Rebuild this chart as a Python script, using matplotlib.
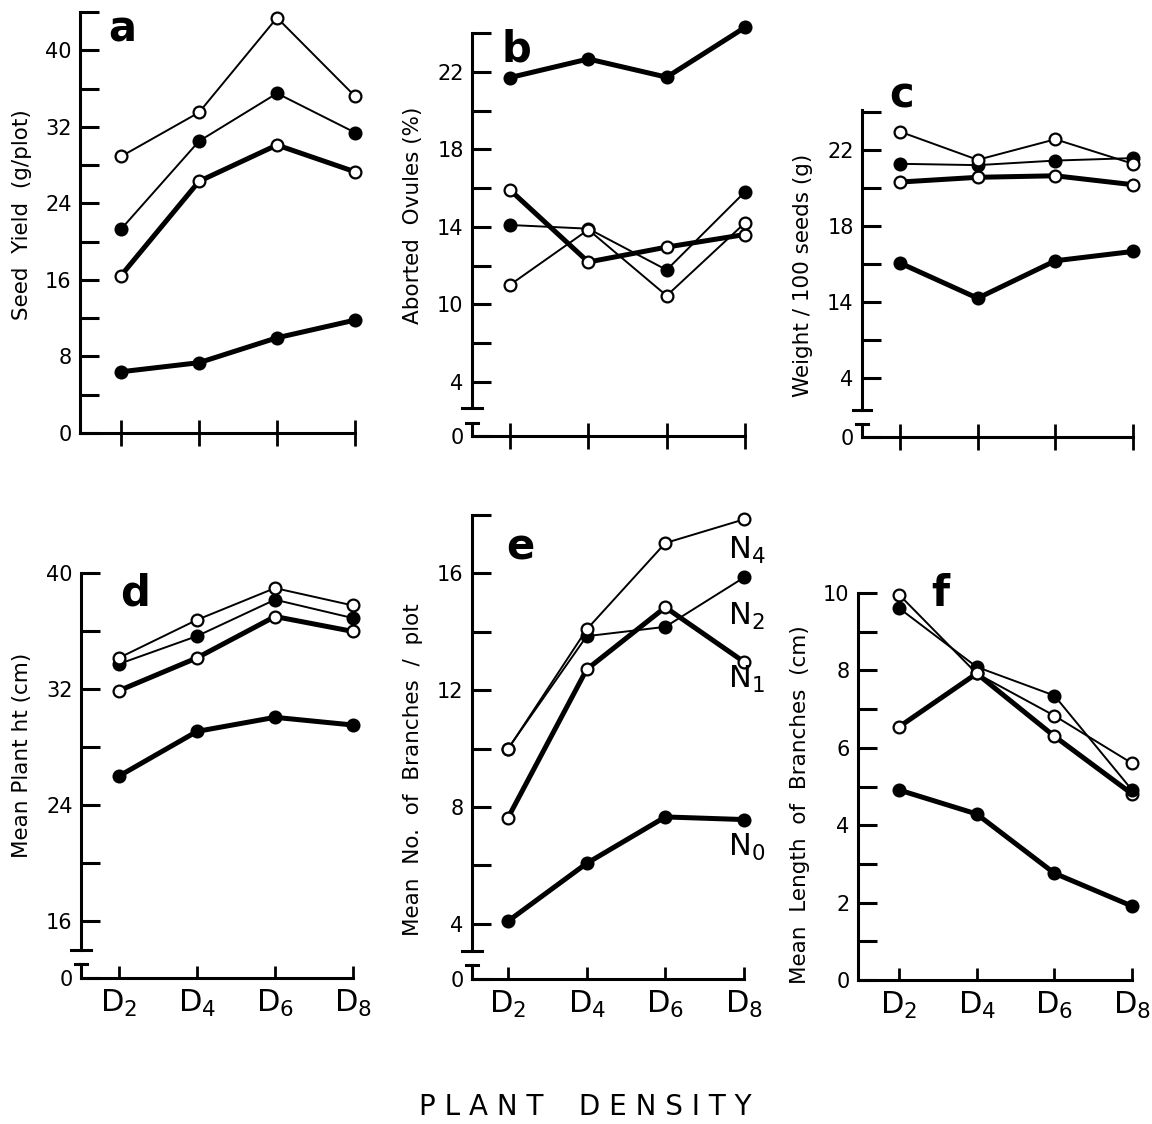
import matplotlib.pyplot as plt

plt.rcParams['font.family'] = 'DejaVu Sans'
plt.rcParams['mathtext.default'] = 'regular'

# plant density levels and nitrogen levels
density = ['D$_2$', 'D$_4$', 'D$_6$', 'D$_8$']
nitrogen = ['N$_0$', 'N$_1$', 'N$_2$', 'N$_4$']
x = [0, 1, 2, 3]

# series order in every panel: N0, N1, N2, N4
seed_yield = [[6.4, 7.35, 9.95, 11.8],
              [16.45, 26.3, 30.1, 27.3],
              [21.3, 30.5, 35.5, 31.4],
              [28.9, 33.5, 43.4, 35.2]]
aborted_ovules = [[21.7, 22.66, 21.72, 24.29],
                  [15.9, 12.18, 12.95, 13.6],
                  [14.09, 13.9, 11.77, 15.8],
                  [11.0, 13.85, 10.44, 14.2]]
seed_weight = [[16.05, 14.2, 16.17, 16.66],
               [20.31, 20.56, 20.64, 20.17],
               [21.27, 21.2, 21.44, 21.57],
               [22.96, 21.48, 22.56, 21.27]]
plant_height = [[26.0, 29.08, 30.05, 29.52],
                [31.89, 34.15, 37.0, 35.97],
                [33.73, 35.65, 38.16, 36.89],
                [34.15, 36.77, 38.96, 37.76]]
branch_count = [[4.09, 6.07, 7.66, 7.57],
                [7.63, 12.71, 14.84, 12.97],
                [10.0, 13.85, 14.17, 15.86],
                [9.98, 14.08, 17.04, 17.85]]
branch_length = [[4.91, 4.29, 2.76, 1.91],
                 [6.54, 7.92, 6.3, 4.81],
                 [9.61, 8.09, 7.35, 4.91],
                 [9.96, 7.92, 6.83, 5.6]]

# line width / marker fill per nitrogen level
styles = [dict(lw=3.6, mfc='black'),
          dict(lw=3.6, mfc='white'),
          dict(lw=1.4, mfc='black'),
          dict(lw=1.4, mfc='white')]

W, H = 1152, 1124
fig = plt.figure(figsize=(W / 100, H / 100), dpi=100)


def make_axes(left, d2, d8, bottom, top, ybot, ytop, top_row):
    ax = fig.add_axes([left / W, 1 - bottom / H, (d8 - left) / W, (bottom - top) / H])
    step = (d8 - d2) / 3
    ax.set_xlim(-(d2 - left) / step, 3)
    ax.set_ylim(ybot, ytop)
    for s in ['top', 'right']:
        ax.spines[s].set_visible(False)
    for s in ['left', 'bottom']:
        ax.spines[s].set_linewidth(2.2)
    ax.set_xticks(x)
    if top_row:
        ax.tick_params(axis='x', direction='inout', length=19, width=2, labelbottom=False)
    else:
        ax.tick_params(axis='x', direction='in', length=9, width=2, labelsize=22, pad=7)
        ax.set_xticklabels(density)
    ax.tick_params(axis='y', direction='in', length=14, width=2.2, labelsize=15, pad=6)
    return ax


def add_break(ax, brk, tee):
    # broken y axis: end bar, gap, then a small "T" down to the x axis
    tr = ax.get_yaxis_transform()
    ax.spines['left'].set_bounds(brk, ax.get_ylim()[1])
    ax.plot([-0.035, 0.035], [brk, brk], color='black', lw=2.2, transform=tr, clip_on=False)
    ax.plot([-0.022, 0.022], [tee, tee], color='black', lw=2.2, transform=tr, clip_on=False)
    ax.plot([0, 0], [tee, ax.get_ylim()[0]], color='black', lw=2.2, transform=tr, clip_on=False)


def draw(ax, data):
    for vals, st in zip(data, styles):
        ax.plot(x, vals, color='black', lw=st['lw'], marker='o', ms=8.5,
                mfc=st['mfc'], mec='black', mew=1.6, clip_on=False, zorder=3)


def ylabel(xpx, ypx, text):
    fig.text(xpx / W, 1 - ypx / H, text, rotation=90, ha='center', va='center', fontsize=15.5)


def letter(xpx, ypx, text):
    fig.text(xpx / W, 1 - ypx / H, text, ha='center', va='center', fontsize=30, fontweight='bold')


# a
ax = make_axes(80, 121, 355, 433, 12, 0, 43.8, True)
ax.set_yticks(range(0, 45, 4))
ax.set_yticklabels([str(v) if v % 8 == 0 else '' for v in range(0, 45, 4)])
draw(ax, seed_yield)
letter(122, 30, 'a')
ylabel(22, 215, 'Seed  Yield  (g/plot)')

# b
ax = make_axes(472, 510, 745, 436, 33, 3.2, 24, True)
ax.set_yticks([3.2] + list(range(6, 25, 2)))
ax.set_yticklabels(['0', '4', '', '10', '', '14', '', '18', '', '22', ''])
add_break(ax, 4.65, 3.87)
draw(ax, aborted_ovules)
letter(516, 50, 'b')
ylabel(413, 215, 'Aborted  Ovules (%)')

# c
ax = make_axes(862, 900, 1133, 437, 110, 6.9, 24.1, True)
ax.set_yticks([6.9] + list(range(10, 25, 2)))
ax.set_yticklabels(['0', '4', '', '14', '', '18', '', '22', ''])
add_break(ax, 8.3, 7.6)
draw(ax, seed_weight)
letter(902, 96, 'c')
ylabel(803, 275, 'Weight / 100 seeds (g)')

# d
ax = make_axes(81, 119, 353, 978, 573, 12.08, 40, False)
ax.set_yticks([12.08] + list(range(16, 41, 4)))
ax.set_yticklabels(['0', '16', '', '24', '', '32', '', '40'])
add_break(ax, 14.03, 13.05)
draw(ax, plant_height)
letter(135, 594, 'd')
ylabel(22, 755, 'Mean Plant ht (cm)')

# e
ax = make_axes(472, 508, 744, 979, 515, 2.11, 18, False)
ax.set_yticks([2.11] + list(range(4, 19, 2)))
ax.set_yticklabels(['0', '4', '', '8', '', '12', '', '16', ''])
add_break(ax, 3.08, 2.6)
draw(ax, branch_count)
for vals, lab, dy in zip(branch_count, nitrogen, [-0.95, -0.6, -1.35, -1.05]):
    ax.text(3.03, vals[-1] + dy, lab, fontsize=22, ha='center', va='center')
letter(520, 547, 'e')
ylabel(413, 770, 'Mean  No.  of  Branches  /  plot')

# f
ax = make_axes(858, 899, 1132, 980, 593, 0, 10, False)
ax.set_yticks(range(0, 11))
ax.set_yticklabels([str(v) if v % 2 == 0 else '' for v in range(0, 11)])
draw(ax, branch_length)
letter(940, 594, 'f')
ylabel(800, 805, 'Mean  Length  of  Branches  (cm)')

fig.text(585 / W, 1 - 1107 / H, 'P L A N T    D E N S I T Y', ha='center', va='center', fontsize=20)

fig.savefig('out.png', dpi=100, facecolor='white')
